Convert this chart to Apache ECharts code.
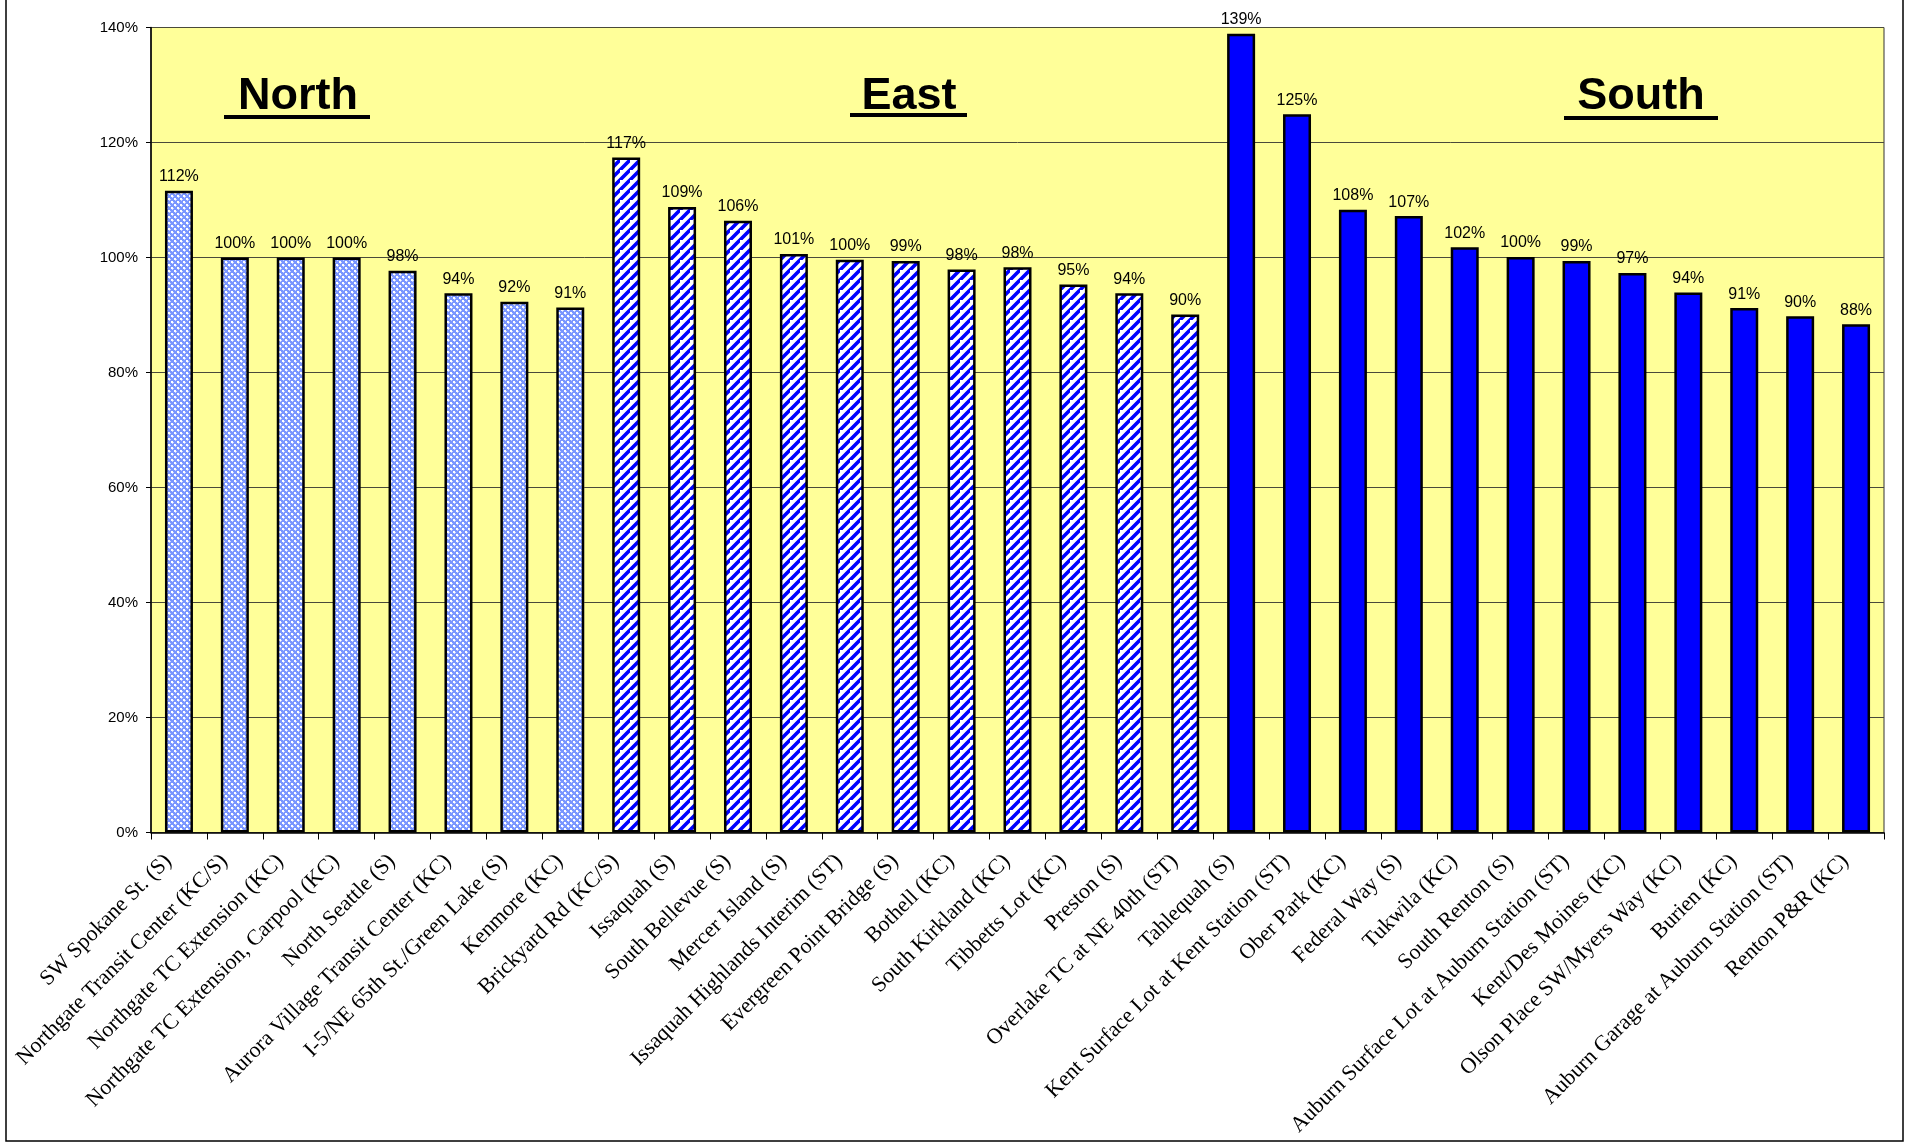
<!DOCTYPE html>
<html>
<head>
<meta charset="utf-8">
<script src="https://cdn.jsdelivr.net/npm/echarts@6/dist/echarts.min.js"></script>
<style>
html,body{margin:0;padding:0;background:#fff;}
#chart{width:1907px;height:1144px;}
</style>
</head>
<body>
<div id="chart"></div>
<script>
// ---- data ----
const northCategories = ["SW Spokane St. (S)","Northgate Transit Center (KC/S)","Northgate TC Extension (KC)","Northgate TC Extension, Carpool (KC)","North Seattle (S)","Aurora Village Transit Center (KC)","I-5/NE 65th St./Green Lake (S)","Kenmore (KC)"];
const northValues = [111.6, 100.0, 100.0, 100.0, 97.7, 93.8, 92.3, 91.3];
const eastCategories = ["Brickyard Rd (KC/S)","Issaquah (S)","South Bellevue (S)","Mercer Island (S)","Issaquah Highlands Interim (ST)","Evergreen Point Bridge (S)","Bothell (KC)","South Kirkland (KC)","Tibbetts Lot (KC)","Preston (S)","Overlake TC at NE 40th (ST)"];
const eastValues = [117.4, 108.8, 106.4, 100.6, 99.6, 99.4, 97.9, 98.3, 95.3, 93.8, 90.1];
const southCategories = ["Tahlequah (S)","Kent Surface Lot at Kent Station (ST)","Ober Park (KC)","Federal Way (S)","Tukwila (KC)","South Renton (S)","Auburn Surface Lot at Auburn Station (ST)","Kent/Des Moines (KC)","Olson Place SW/Myers Way (KC)","Burien (KC)","Auburn Garage at Auburn Station (ST)","Renton P&R (KC)"];
const southValues = [138.9, 124.9, 108.3, 107.2, 101.8, 100.1, 99.4, 97.3, 93.9, 91.2, 89.8, 88.4];
const regionTitles = ["North","East","South"];
const yTicks = [0, 20, 40, 60, 80, 100, 120, 140];

// ---- patterns ----
function crossPattern(){
  const c = document.createElement('canvas'); c.width = 6; c.height = 6;
  const g = c.getContext('2d');
  g.fillStyle = '#7A96FF'; g.fillRect(0,0,6,6);
  g.fillStyle = '#FFFFFF';
  g.fillRect(0,0,2,2); g.fillRect(3,3,2,2);
  g.fillStyle = '#C8D4FF';
  g.fillRect(2,1,1,1); g.fillRect(1,2,1,1); g.fillRect(5,4,1,1); g.fillRect(4,5,1,1);
  return c;
}
function stripePattern(){
  const s = 10;
  const c = document.createElement('canvas'); c.width = s; c.height = s;
  const g = c.getContext('2d');
  g.fillStyle = '#FFFFFF'; g.fillRect(0,0,s,s);
  g.strokeStyle = '#0000FF'; g.lineWidth = 3.6; g.lineCap = 'square';
  g.beginPath();
  g.moveTo(-2, s+2); g.lineTo(s+2, -2);
  g.moveTo(-2-s, 2); g.lineTo(2, -2-s);
  g.moveTo(-2, 2*s+2); g.lineTo(2*s+2, -2);
  g.stroke();
  return c;
}
const northFill = {image: crossPattern(), repeat: 'repeat'};
const eastFill = {image: stripePattern(), repeat: 'repeat'};
const southFill = '#0000FF';

const categories = northCategories.concat(eastCategories, southCategories);
const seriesData = [];
northValues.forEach(v => seriesData.push({value: v, itemStyle: {color: northFill}}));
eastValues.forEach(v => seriesData.push({value: v, itemStyle: {color: eastFill}}));
southValues.forEach(v => seriesData.push({value: v, itemStyle: {color: southFill}}));

function regionTitle(name, cx, underlineX1, underlineX2, ulY){
  return [
    {type:'text', z: 100, style:{x: cx, y: 97, text: name, font: 'bold 45px "Liberation Sans", Arial, sans-serif', fill:'#000', align:'center', verticalAlign:'middle'}},
    {type:'rect', z: 100, shape:{x: underlineX1, y: ulY, width: underlineX2-underlineX1, height: 4}, style:{fill:'#000'}}
  ];
}

const chart = echarts.init(document.getElementById('chart'), null, {renderer:'canvas'});
chart.setOption({
  backgroundColor: '#FFFFFF',
  animation: false,
  grid: {left: 151, right: 23, top: 27.5, bottom: 311.5, show: true, backgroundColor: '#FFFF99', borderColor: '#333', borderWidth: 1},
  xAxis: {
    type: 'category',
    data: categories,
    axisLine: {lineStyle: {color: '#000', width: 1.5}},
    axisTick: {show: true, length: 7, lineStyle: {color: '#000'}},
    axisLabel: {interval: 0, rotate: 45, margin: 36, verticalAlign: 'bottom', lineHeight: 30, color: '#000', fontFamily: '"Liberation Serif", "Times New Roman", serif', fontSize: 22}
  },
  yAxis: {
    type: 'value', min: 0, max: 140, interval: 20,
    axisLine: {show: true, lineStyle: {color: '#000', width: 1.5}},
    axisTick: {show: true, length: 5, lineStyle: {color: '#000'}},
    axisLabel: {margin: 13, color: '#000', fontFamily: '"Liberation Sans", Arial, sans-serif', fontSize: 15, formatter: v => v + '%'},
    splitLine: {show: true, lineStyle: {color: '#4a4a3a', width: 1}}
  },
  series: [{
    type: 'bar',
    data: seriesData,
    barWidth: 28,
    itemStyle: {borderColor: '#000', borderWidth: 2.5},
    label: {show: true, position: 'top', distance: 6, color: '#000', fontFamily: '"Liberation Sans", Arial, sans-serif', fontSize: 16,
      formatter: p => Math.round(p.value) + '%'}
  }],
  graphic: [
    {type:'rect', z: 0, shape:{x: 6, y: -5, width: 1897, height: 1146}, style:{fill:'none', stroke:'#000', lineWidth: 1.5}}
  ].concat(
    regionTitle(regionTitles[0], 298, 224, 370, 115),
    regionTitle(regionTitles[1], 909, 850, 967, 113),
    regionTitle(regionTitles[2], 1641, 1564, 1718, 116)
  )
});
</script>
</body>
</html>
